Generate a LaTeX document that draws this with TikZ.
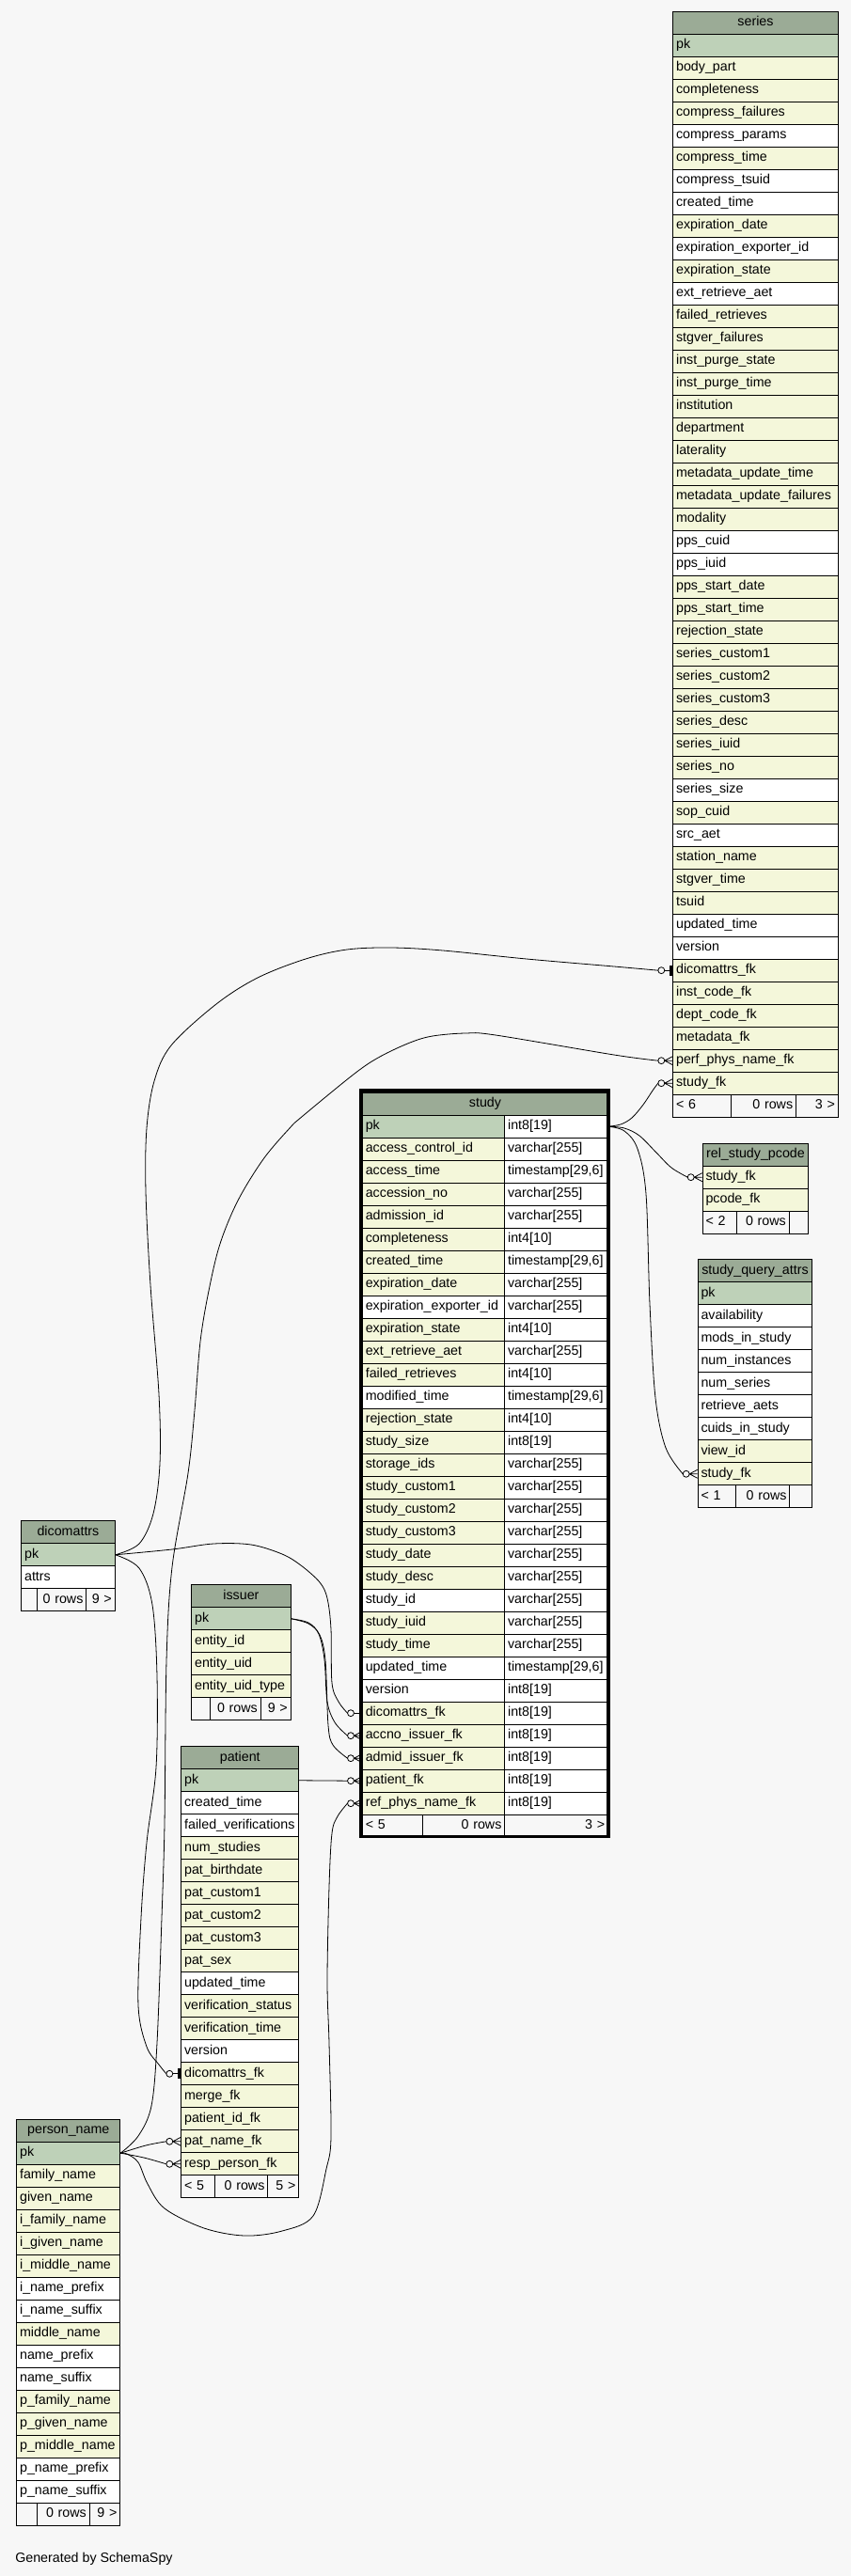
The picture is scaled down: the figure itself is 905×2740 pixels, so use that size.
\documentclass[tikz,border=0pt]{standalone}
\usepackage{fontspec}
\setmainfont{Liberation Sans}
\usetikzlibrary{calc}
\definecolor{bgc}{HTML}{F7F7F7}
\definecolor{tH}{HTML}{9BAB96}
\definecolor{tP}{HTML}{BED1B8}
\definecolor{tY}{HTML}{F4F7DA}
\definecolor{tW}{HTML}{FFFFFF}
\newcommand\tabfont{\fontsize{10.7pt}{12pt}\selectfont\hyphenpenalty=10000\exhyphenpenalty=10000\relax}
\tikzset{
 tcell/.style={draw=black, line width=0.7pt, anchor=north west, minimum height=18pt, inner xsep=2.5pt, inner ysep=0pt, text height=7.8pt, text depth=2.2pt, align=left, font=\tabfont},
 thead/.style={tcell, fill=tH, align=center},
 tfoot/.style={tcell, fill=bgc},
 conn/.style={draw=black, line width=0.6pt},
 sm/.style={conn, smooth, tension=0.55},
}
\newcommand\mktable[6]{%
  \pgfmathsetmacro\tw{#4*0.75-5}%
  \node[thead, text width=\tw pt] (#1) at (#2,#3) {#5};
  \foreach[count=\i] \rn/\rc in {#6}{%
    \node[tcell, fill=\rc, text width=\tw pt] (#1-\rn) at (#2,{#3+24*\i}) {\rn};
  }%
}
\newcommand\mkfoot[9]{%
  \pgfmathsetmacro\fa{(#4-#2)*0.75-5}%
  \pgfmathsetmacro\fb{(#5-#4)*0.75-5}%
  \pgfmathsetmacro\fc{(#6-#5)*0.75-5}%
  \node[tfoot, text width=\fa pt] (#1-fa) at (#2,#3) {#7};
  \node[tfoot, text width=\fb pt, align=right] (#1-fb) at (#4,#3) {#8};
  \node[tfoot, text width=\fc pt, align=right] (#1-fc) at (#5,#3) {#9};
}
\newcommand\crowmark[1]{%
  \draw[conn, fill=bgc] ($(#1)+(-12,0)$) circle[radius=2.6pt];
  \draw[conn] ($(#1)+(-8.5,0)$) -- ($(#1)+(0,-4.5)$) ($(#1)+(-8.5,0)$) -- (#1) ($(#1)+(-8.5,0)$) -- ($(#1)+(0,4.5)$);
}
\newcommand\barmark[1]{%
  \draw[conn, fill=bgc] ($(#1)+(-12,0)$) circle[radius=2.6pt];
  \draw[conn] ($(#1)+(-8.5,0)$) -- (#1);
  \fill ($(#1)+(-3,-5.5)$) rectangle ($(#1)+(0,5.5)$);
}
\catcode`\_=12
\begin{document}
\begin{tikzpicture}[x=0.75pt,y=-0.75pt]
\fill[bgc] (0,0) rectangle (905,2740);
\useasboundingbox (0,0) rectangle (905,2740);

% series
\mktable{series}{715.3}{11.7}{175.4}{series}{pk/tP, body_part/tY, completeness/tY, compress_failures/tY, compress_params/tW, compress_time/tY, compress_tsuid/tW, created_time/tW, expiration_date/tY, expiration_exporter_id/tW, expiration_state/tY, ext_retrieve_aet/tW, failed_retrieves/tY, stgver_failures/tY, inst_purge_state/tY, inst_purge_time/tY, institution/tY, department/tY, laterality/tY, metadata_update_time/tY, metadata_update_failures/tY, modality/tY, pps_cuid/tW, pps_iuid/tW, pps_start_date/tY, pps_start_time/tY, rejection_state/tY, series_custom1/tY, series_custom2/tY, series_custom3/tY, series_desc/tY, series_iuid/tY, series_no/tY, series_size/tW, sop_cuid/tY, src_aet/tW, station_name/tY, stgver_time/tY, tsuid/tY, updated_time/tW, version/tW, dicomattrs_fk/tY, inst_code_fk/tY, dept_code_fk/tY, metadata_fk/tY, perf_phys_name_fk/tY, study_fk/tY}
\mkfoot{series}{715.3}{1163.7}{777.3}{846}{890.7}{< 6}{0 rows}{3 >}

% rel_study_pcode
\mktable{rel_study_pcode}{746.7}{1215.7}{112.6}{rel_study_pcode}{study_fk/tY, pcode_fk/tY}
\mkfoot{rel_study_pcode}{746.7}{1287.7}{782.7}{838.7}{859.3}{< 2}{0 rows}{}

% study_query_attrs
\mktable{study_query_attrs}{741.7}{1339.3}{121.6}{study_query_attrs}{pk/tP, availability/tW, mods_in_study/tW, num_instances/tW, num_series/tW, retrieve_aets/tW, cuids_in_study/tW, view_id/tY, study_fk/tY}
\mkfoot{study_query_attrs}{741.7}{1579.3}{782.3}{839.3}{863.3}{< 1}{0 rows}{}

% dicomattrs
\mktable{dicomattrs}{22.3}{1617.3}{99.4}{dicomattrs}{pk/tP, attrs/tW}
\mkfoot{dicomattrs}{22.3}{1689.3}{39.3}{91.3}{121.7}{}{0 rows}{9 >}

% issuer
\mktable{issuer}{203.3}{1685.3}{105.4}{issuer}{pk/tP, entity_id/tY, entity_uid/tY, entity_uid_type/tY}
\mkfoot{issuer}{203.3}{1805.3}{223.3}{276.7}{308.7}{}{0 rows}{9 >}

% patient
\mktable{patient}{192.3}{1857.3}{125}{patient}{pk/tP, created_time/tW, failed_verifications/tW, num_studies/tY, pat_birthdate/tY, pat_custom1/tY, pat_custom2/tY, pat_custom3/tY, pat_sex/tY, updated_time/tW, verification_status/tY, verification_time/tY, version/tW, dicomattrs_fk/tY, merge_fk/tY, patient_id_fk/tY, pat_name_fk/tY, resp_person_fk/tY}
\mkfoot{patient}{192.3}{2313.3}{228.3}{284.3}{317.3}{< 5}{0 rows}{5 >}

% person_name
\mktable{person_name}{17.3}{2253.7}{110}{person_name}{pk/tP, family_name/tY, given_name/tY, i_family_name/tY, i_given_name/tY, i_middle_name/tY, i_name_prefix/tW, i_name_suffix/tW, middle_name/tY, name_prefix/tW, name_suffix/tW, p_family_name/tY, p_given_name/tY, p_middle_name/tY, p_name_prefix/tW, p_name_suffix/tW}
\mkfoot{person_name}{17.3}{2661.7}{39.3}{94.7}{127.3}{}{0 rows}{9 >}

% study
\pgfmathsetmacro\twh{(646-385)*0.75-5}
\pgfmathsetmacro\twa{(536.3-385)*0.75-5}
\pgfmathsetmacro\twb{(646-536.3)*0.75-5}
\node[thead, text width=\twh pt] (study) at (385,1161.7) {study};
\foreach[count=\i] \rn/\rt/\rc in {pk/int8[19]/tP, access_control_id/varchar[255]/tY, access_time/{timestamp[29,6]}/tY, accession_no/varchar[255]/tY, admission_id/varchar[255]/tY, completeness/int4[10]/tY, created_time/{timestamp[29,6]}/tY, expiration_date/varchar[255]/tY, expiration_exporter_id/varchar[255]/tW, expiration_state/int4[10]/tY, ext_retrieve_aet/varchar[255]/tY, failed_retrieves/int4[10]/tY, modified_time/{timestamp[29,6]}/tW, rejection_state/int4[10]/tY, study_size/int8[19]/tY, storage_ids/varchar[255]/tY, study_custom1/varchar[255]/tY, study_custom2/varchar[255]/tY, study_custom3/varchar[255]/tY, study_date/varchar[255]/tY, study_desc/varchar[255]/tY, study_id/varchar[255]/tW, study_iuid/varchar[255]/tY, study_time/varchar[255]/tY, updated_time/{timestamp[29,6]}/tW, version/int8[19]/tW, dicomattrs_fk/int8[19]/tY, accno_issuer_fk/int8[19]/tY, admid_issuer_fk/int8[19]/tY, patient_fk/int8[19]/tY, ref_phys_name_fk/int8[19]/tY}{%
  \node[tcell, fill=\rc, text width=\twa pt] (study-\rn) at (385,{1161.7+24*\i}) {\rn};
  \node[tcell, fill=tW, text width=\twb pt] (study-\rn-t) at (536.3,{1161.7+24*\i}) {\rt};
}
\mkfoot{study}{385}{1929.7}{449.3}{536.3}{646}{< 5}{0 rows}{3 >}
\draw[line width=2.5pt] (384,1160) rectangle (647,1953.5);

% connector end points
\coordinate (eA) at ($(series-dicomattrs_fk.west)+(-15.5,0)$);
\coordinate (eB) at ($(series-perf_phys_name_fk.west)+(-15.5,0)$);
\coordinate (eC) at ($(series-study_fk.west)+(-15.5,0)$);
\coordinate (eD) at ($(rel_study_pcode-study_fk.west)+(-15.5,0)$);
\coordinate (eE) at ($(study_query_attrs-study_fk.west)+(-15.5,0)$);
\coordinate (eF) at ($(study-dicomattrs_fk.west)+(-15.5,0)$);
\coordinate (eG) at ($(study-accno_issuer_fk.west)+(-15.5,0)$);
\coordinate (eH) at ($(study-admid_issuer_fk.west)+(-15.5,0)$);
\coordinate (eI) at ($(study-patient_fk.west)+(-15.5,0)$);
\coordinate (eJ) at ($(study-ref_phys_name_fk.west)+(-15.5,0)$);
\coordinate (eK) at ($(patient-dicomattrs_fk.west)+(-15.5,0)$);
\coordinate (eL) at ($(patient-pat_name_fk.west)+(-15.5,0)$);
\coordinate (eM) at ($(patient-resp_person_fk.west)+(-15.5,0)$);

% connectors
\draw[sm] plot coordinates {(dicomattrs-pk.east) (148,1642) (163,1610) (170,1557) (169,1483) (160,1367) (155,1267) (156,1200) (164,1150) (182,1112) (230,1068) (274,1040) (325,1020) (369,1010) (416,1008) (471,1011) (560,1020) (653,1028) (eA)};
\draw[sm] plot coordinates {(person_name-pk.east) (147,2272) (161,2240) (167,2173) (172,2040) (175,1940) (177,1767) (183,1667) (200,1567) (207,1500) (213,1427) (222,1373) (234,1323) (253,1277) (280,1233) (308,1200) (322,1187) (377,1142) (404,1124) (436,1109) (460,1102) (495,1099) (527,1101) (653,1122) (eB)};
\draw[sm] plot coordinates {(study-pk-t.east) (660,1196) (672,1189) (684,1175) (694,1160) (eC)};
\draw[sm] plot coordinates {(study-pk-t.east) (664,1200) (680,1208) (698,1226) (714,1242) (eD)};
\draw[sm] plot coordinates {(study-pk-t.east) (664,1203) (678,1222) (687,1270) (691,1387) (697,1487) (708,1540) (eE)};
\draw[sm] plot coordinates {(dicomattrs-pk.east) (183,1648) (227,1642) (267,1643) (300,1653) (320,1665) (340,1683) (348,1700) (352,1733) (353,1790) (360,1810) (eF)};
\draw[sm] plot coordinates {(issuer-pk.east) (328,1726) (339,1738) (345,1765) (348,1810) (356,1832) (eG)};
\draw[sm] plot coordinates {(issuer-pk.east) (328,1727) (340,1739) (346,1766) (349,1835) (354,1856) (eH)};
\draw[conn] (patient-pk.east) -- (eI);
\draw[sm] plot coordinates {(person_name-pk.east) (135,2291) (147,2300) (157,2323) (175,2349) (217,2370) (260,2378) (300,2373) (333,2357) (347,2307) (352,2273) (350,2173) (348,2107) (350,2007) (353,1950) (359,1932) (eJ)};
\draw[sm] plot coordinates {(dicomattrs-pk.east) (148,1668) (162,1707) (167,1783) (166,1880) (156,1960) (150,2040) (147,2133) (156,2177) (169,2196) (eK)};
\draw[sm] plot coordinates {(person_name-pk.east) (155,2282) (eL)};
\draw[sm] plot coordinates {(person_name-pk.east) (153,2295) (eM)};

% end markers
\barmark{series-dicomattrs_fk.west}
\crowmark{series-perf_phys_name_fk.west}
\crowmark{series-study_fk.west}
\crowmark{rel_study_pcode-study_fk.west}
\crowmark{study_query_attrs-study_fk.west}
\barmark{study-dicomattrs_fk.west}
\crowmark{study-accno_issuer_fk.west}
\crowmark{study-admid_issuer_fk.west}
\crowmark{study-patient_fk.west}
\crowmark{study-ref_phys_name_fk.west}
\barmark{patient-dicomattrs_fk.west}
\crowmark{patient-pat_name_fk.west}
\crowmark{patient-resp_person_fk.west}

\node[anchor=base west, font=\tabfont, inner sep=0pt] (gen) at (16,2725) {Generated by SchemaSpy};
\end{tikzpicture}
\end{document}
